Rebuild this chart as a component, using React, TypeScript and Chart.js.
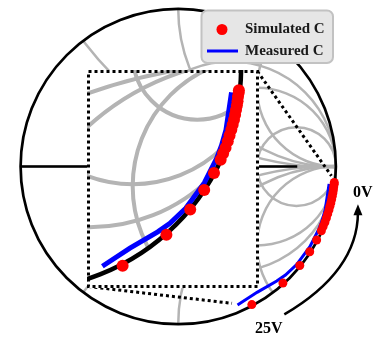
import { useEffect, useRef } from 'react';
import { Chart, registerables } from 'chart.js';

Chart.register(...registerables);

// Reflection coefficient (Re, Im) of the simulated capacitor, 0 V -> 25 V
const simulatedRe = [0.990, 0.989, 0.986, 0.984, 0.981, 0.977, 0.973, 0.968, 0.962, 0.956, 0.948, 0.940, 0.930, 0.919, 0.908, 0.878, 0.834, 0.771, 0.664, 0.467];
const simulatedIm = [-0.101, -0.113, -0.130, -0.149, -0.168, -0.188, -0.209, -0.231, -0.253, -0.276, -0.301, -0.327, -0.355, -0.381, -0.408, -0.467, -0.542, -0.629, -0.741, -0.878];

// Measured reflection coefficient trace
const measuredRe = [0.957, 0.945, 0.932, 0.912, 0.890, 0.835, 0.751, 0.680, 0.625, 0.500, 0.376];
const measuredIm = [-0.110, -0.190, -0.276, -0.345, -0.402, -0.510, -0.623, -0.690, -0.728, -0.800, -0.880];

// Smith chart grid
const resistanceCircles = [0.5, 1, 3];
const reactanceArcs = [0.5, 1, 2];

const seriesLabels = ['Simulated C', 'Measured C'];
const voltageLabels = ['0V', '25V'];

const RED = '#ff0000';
const BLUE = '#0000ff';
const GRID = '#b4b4b4';

// inset box on the page (px)
const INSET = { left: 87, top: 70, width: 172, height: 218 };

const toPoints = (re: number[], im: number[]) => re.map((x, i) => ({ x, y: im[i] }));

// draws the Smith grid with the grid scales (gx, gy), clipped to / rimmed by
// the unit circle of the data scales (dx, dy)
function smithGrid(gridWidth: number, rimWidth: number, isInset: boolean, gx: string, gy: string, dx: string, dy: string) {
  return {
    id: 'smithGrid',
    beforeDatasetsDraw(chart: any) {
      const { ctx, scales } = chart;
      const px = (u: number) => scales[gx].getPixelForValue(u);
      const py = (v: number) => scales[gy].getPixelForValue(v);
      const k = px(1) - px(0);
      const cy = py(0);
      const rcx = scales[dx].getPixelForValue(0);
      const rcy = scales[dy].getPixelForValue(0);
      const rk = scales[dx].getPixelForValue(1) - rcx;
      ctx.save();
      if (isInset) {
        ctx.fillStyle = '#ffffff';
        ctx.fillRect(0, 0, chart.width, chart.height);
      }
      ctx.beginPath();
      ctx.arc(rcx, rcy, rk, 0, Math.PI * 2);
      ctx.clip();
      ctx.strokeStyle = GRID;
      ctx.lineWidth = gridWidth;
      for (const r of resistanceCircles) {
        ctx.beginPath();
        ctx.arc(px(r / (1 + r)), cy, k / (1 + r), 0, Math.PI * 2);
        ctx.stroke();
      }
      for (const xv of reactanceArcs) {
        for (const s of [1, -1]) {
          ctx.beginPath();
          ctx.arc(px(1), py(s / xv), k / xv, 0, Math.PI * 2);
          ctx.stroke();
        }
      }
      ctx.beginPath();
      ctx.moveTo(px(-1), cy);
      ctx.lineTo(px(1), cy);
      ctx.stroke();
      ctx.restore();

      ctx.save();
      ctx.strokeStyle = '#000';
      if (!isInset) {
        ctx.lineWidth = 2.5;
        ctx.beginPath();
        ctx.moveTo(px(-1), cy);
        ctx.lineTo(px(0.755), cy);
        ctx.stroke();
      }
      ctx.lineWidth = rimWidth;
      ctx.beginPath();
      ctx.arc(rcx, rcy, rk, 0, Math.PI * 2);
      ctx.stroke();
      ctx.restore();
    },
  };
}

const insetBorder = {
  id: 'insetBorder',
  afterDraw(chart: any) {
    const { ctx } = chart;
    ctx.save();
    ctx.strokeStyle = '#000';
    ctx.lineWidth = 3;
    ctx.setLineDash([3, 3]);
    ctx.strokeRect(1.5, 1.5, chart.width - 3, chart.height - 3);
    ctx.restore();
  },
};

const annotations = {
  id: 'annotations',
  afterDraw(chart: any) {
    const { ctx, scales } = chart;
    const px = (u: number) => scales.x.getPixelForValue(u);
    const py = (v: number) => scales.y.getPixelForValue(v);

    // dotted leaders from the inset to the zoomed region
    ctx.save();
    ctx.strokeStyle = '#000';
    ctx.lineWidth = 3;
    ctx.setLineDash([3, 3]);
    ctx.beginPath();
    ctx.moveTo(INSET.left + INSET.width - 1.5, INSET.top + 1.5);
    ctx.lineTo(px(0.972), py(-0.059));
    ctx.moveTo(INSET.left + 1.5, INSET.top + INSET.height - 1.5);
    ctx.lineTo(px(0.341), py(-0.870));
    ctx.stroke();
    ctx.restore();

    // bias sweep arrow
    const sx = px(0.673), sy = py(-0.940);
    const mx = px(1.023), my = py(-0.640);
    const ex = px(1.140), ey = py(-0.290);
    const qx = 2 * mx - (sx + ex) / 2;
    const qy = 2 * my - (sy + ey) / 2;
    ctx.save();
    ctx.strokeStyle = '#000';
    ctx.fillStyle = '#000';
    ctx.lineWidth = 2.5;
    ctx.beginPath();
    ctx.moveTo(sx, sy);
    ctx.quadraticCurveTo(qx, qy, ex, ey);
    ctx.stroke();
    const ang = Math.atan2(ey - qy, ex - qx);
    const len = 11;
    const half = 4.5;
    const tx = ex + Math.cos(ang) * 8;
    const ty = ey + Math.sin(ang) * 8;
    ctx.beginPath();
    ctx.moveTo(tx, ty);
    ctx.lineTo(tx - Math.cos(ang) * len + Math.sin(ang) * half, ty - Math.sin(ang) * len - Math.cos(ang) * half);
    ctx.lineTo(tx - Math.cos(ang) * len - Math.sin(ang) * half, ty - Math.sin(ang) * len + Math.cos(ang) * half);
    ctx.closePath();
    ctx.fill();

    ctx.font = 'bold 16px "Liberation Serif", "Times New Roman", serif';
    ctx.textBaseline = 'alphabetic';
    ctx.textAlign = 'left';
    ctx.fillText(voltageLabels[0], px(1.108), py(-0.195));
    ctx.fillText(voltageLabels[1], px(0.487), py(-1.057));
    ctx.restore();

    // legend
    const ds = chart.data.datasets;
    ctx.save();
    const bx = 201.5, by = 10.5, bw = 131.5, bh = 52.5, rad = 6;
    ctx.beginPath();
    ctx.moveTo(bx + rad, by);
    ctx.arcTo(bx + bw, by, bx + bw, by + bh, rad);
    ctx.arcTo(bx + bw, by + bh, bx, by + bh, rad);
    ctx.arcTo(bx, by + bh, bx, by, rad);
    ctx.arcTo(bx, by, bx + bw, by, rad);
    ctx.closePath();
    ctx.fillStyle = '#e6e6e6';
    ctx.fill();
    ctx.lineWidth = 2;
    ctx.strokeStyle = '#c2c2c2';
    ctx.stroke();

    ctx.fillStyle = ds[0].backgroundColor;
    ctx.beginPath();
    ctx.arc(222, 29.5, 5.5, 0, Math.PI * 2);
    ctx.fill();
    ctx.strokeStyle = ds[1].borderColor;
    ctx.lineWidth = 3;
    ctx.beginPath();
    ctx.moveTo(207, 51);
    ctx.lineTo(238, 51);
    ctx.stroke();

    ctx.fillStyle = '#1a1a1a';
    ctx.font = 'bold 15px "Liberation Serif", "Times New Roman", serif';
    ctx.textBaseline = 'middle';
    ctx.fillText(ds[0].label, 245, 29.5);
    ctx.fillText(ds[1].label, 245, 51);
    ctx.restore();
  },
};

function buildDatasets(dotRadius: number, lineWidth: number, xAxisID: string, yAxisID: string) {
  return [
    {
      label: seriesLabels[0],
      data: toPoints(simulatedRe, simulatedIm),
      backgroundColor: RED,
      borderColor: RED,
      borderWidth: 0,
      pointRadius: dotRadius,
      showLine: false,
      xAxisID,
      yAxisID,
    },
    {
      label: seriesLabels[1],
      data: toPoints(measuredRe, measuredIm),
      borderColor: BLUE,
      backgroundColor: BLUE,
      borderWidth: lineWidth,
      pointRadius: 0,
      showLine: true,
      tension: 0,
      xAxisID,
      yAxisID,
    },
  ];
}

const axis = (min: number, max: number, position: string) => ({
  type: 'linear' as const,
  min,
  max,
  display: false,
  position,
});

export default function App() {
  const mainRef = useRef<HTMLCanvasElement>(null);
  const insetRef = useRef<HTMLCanvasElement>(null);

  useEffect(() => {
    const common = {
      animation: false as const,
      responsive: false,
      events: [] as any[],
      layout: { padding: 0 },
      plugins: { legend: { display: false }, tooltip: { enabled: false } },
    };

    const main = new Chart(mainRef.current as HTMLCanvasElement, {
      type: 'scatter',
      data: { datasets: buildDatasets(4.5, 3, 'x', 'y') as any },
      options: {
        ...common,
        scales: {
          x: axis(-178 / 161.5, 198 / 161.5, 'bottom'),
          y: axis(-172.5 / 161.5, 166.5 / 161.5, 'left'),
        } as any,
      },
      plugins: [smithGrid(2.5, 2.7, false, 'x', 'y', 'x', 'y'), annotations],
    });

    // zoomed view: the grid window and the trace window
    const inset = new Chart(insetRef.current as HTMLCanvasElement, {
      type: 'scatter',
      data: { datasets: buildDatasets(6, 5, 'xd', 'yd') as any },
      options: {
        ...common,
        scales: {
          x: axis(0.3464, 0.9656, 'bottom'),
          y: axis(-0.8646, -0.0798, 'left'),
          xd: axis(0.3338, 1.0535, 'bottom'),
          yd: axis(-0.9498, -0.0376, 'left'),
        } as any,
      },
      plugins: [smithGrid(4, 4.5, true, 'x', 'y', 'xd', 'yd'), insetBorder],
    });

    return () => {
      main.destroy();
      inset.destroy();
    };
  }, []);

  return (
    <div style={{ position: 'fixed', left: 0, top: 0, width: 376, height: 339, background: '#fff' }}>
      <canvas
        ref={mainRef}
        width={376}
        height={339}
        style={{ position: 'absolute', left: 0, top: 0, width: 376, height: 339 }}
      />
      <canvas
        ref={insetRef}
        width={INSET.width}
        height={INSET.height}
        style={{ position: 'absolute', left: INSET.left, top: INSET.top, width: INSET.width, height: INSET.height }}
      />
    </div>
  );
}
